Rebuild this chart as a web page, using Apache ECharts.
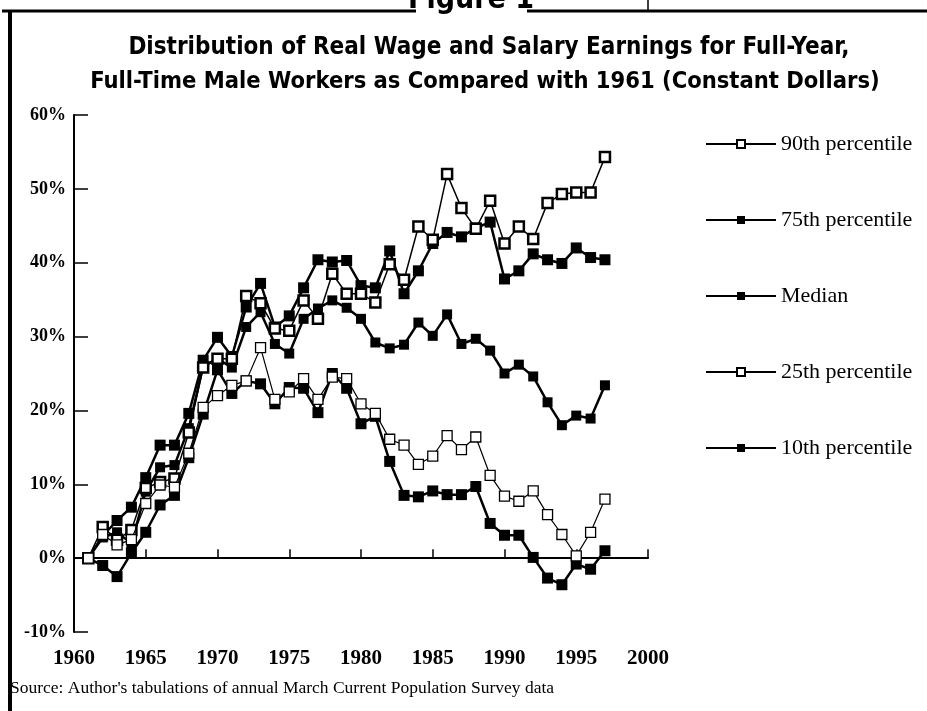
<!DOCTYPE html>
<html><head><meta charset="utf-8">
<script src="https://cdn.jsdelivr.net/npm/echarts@6/dist/echarts.min.js"></script>
<style>html,body{margin:0;padding:0;background:#fff}#c{width:927px;height:711px}</style>
</head><body><div id="c"></div>
<script>
const years = [1961,1962,1963,1964,1965,1966,1967,1968,1969,1970,1971,1972,1973,1974,1975,1976,1977,1978,1979,1980,1981,1982,1983,1984,1985,1986,1987,1988,1989,1990,1991,1992,1993,1994,1995,1996,1997];
const p90 = [0,4.2,2.5,3.8,9.5,10.3,10.8,17.0,25.8,27.0,27.0,35.5,34.5,31.1,30.8,34.9,32.4,38.5,35.8,35.8,34.6,39.8,37.7,44.9,43.1,52.0,47.4,44.6,48.4,42.6,44.9,43.2,48.1,49.3,49.5,49.5,54.3];
const p75 = [0,3.0,5.1,6.9,10.9,15.3,15.3,19.6,26.8,29.9,27.3,34.0,37.2,31.3,32.8,36.6,40.4,40.1,40.3,36.9,36.6,41.6,35.8,38.9,42.6,44.1,43.5,44.7,45.5,37.8,38.9,41.2,40.4,39.9,42.0,40.7,40.4];
const median = [0,2.8,3.5,2.0,9.0,12.3,12.6,17.6,26.0,27.0,25.8,31.3,33.3,29.0,27.7,32.4,33.8,34.9,33.9,32.4,29.2,28.4,28.9,31.9,30.1,33.0,29.0,29.7,28.1,25.0,26.2,24.6,21.1,18.0,19.3,18.9,23.4];
const p25 = [0,3.2,1.8,2.5,7.4,9.9,9.6,14.2,20.4,22.0,23.4,24.0,28.5,21.5,22.5,24.3,21.5,24.5,24.3,20.9,19.6,16.1,15.3,12.7,13.8,16.6,14.7,16.4,11.2,8.4,7.7,9.1,5.9,3.2,0.3,3.5,8.0];
const p10 = [0,-1.0,-2.5,0.7,3.5,7.2,8.5,13.6,19.5,25.5,22.3,24.0,23.6,20.9,23.1,23.0,19.7,25.0,23.0,18.2,19.2,13.1,8.5,8.3,9.1,8.6,8.6,9.7,4.7,3.1,3.1,0.1,-2.7,-3.6,-0.8,-1.5,1.0];
const seriesNames = ['90th percentile','75th percentile','Median','25th percentile','10th percentile'];
const yTicks = {min:-10, max:60, step:10};
const xTicks = {min:1960, max:2000, step:5};
const titleLines = ['Distribution of Real Wage and Salary Earnings for Full-Year,','Full-Time Male Workers as Compared with 1961 (Constant Dollars)'];
const sourceText = "Source: Author's tabulations of annual March Current Population Survey data";
const figureLabel = 'Figure 1';

const pair = arr => years.map((y,i)=>[y,arr[i]]);
const serif = 'Liberation Serif, DejaVu Serif, serif';
const cond = 'DejaVu Sans Condensed, Liberation Sans Narrow, sans-serif';

function mk(name, arr, opts){
  return {
    name, type:'line', data: pair(arr), symbol:'rect', symbolSize: opts.size,
    itemStyle: {color: opts.fill, borderColor:'#000', borderWidth: opts.bw},
    lineStyle: {color:'#000', width: opts.lw},
    emphasis: {disabled:true}, animation:false, z: opts.z
  };
}

const chart = echarts.init(document.getElementById('c'));
chart.setOption({
  backgroundColor:'#fff',
  animation:false,
  grid:{left:74, right:279, top:115, bottom:79},
  xAxis:{type:'value', min:xTicks.min, max:xTicks.max, interval:xTicks.step,
    axisLine:{show:true, lineStyle:{color:'#000', width:2}},
    axisTick:{show:true, inside:true, length:9, lineStyle:{color:'#000', width:1.5}},
    splitLine:{show:false},
    axisLabel:{color:'#000', fontFamily:serif, fontSize:21, fontWeight:'bold', margin:16, showMinLabel:true, showMaxLabel:true, formatter: v => String(v)}},
  yAxis:{type:'value', min:yTicks.min, max:yTicks.max, interval:yTicks.step,
    axisLine:{show:true, lineStyle:{color:'#000', width:2}},
    axisTick:{show:true, inside:true, length:14, lineStyle:{color:'#000', width:1.5}},
    splitLine:{show:false},
    axisLabel:{color:'#000', fontFamily:serif, fontSize:18, fontWeight:'bold', margin:8, formatter:'{value}%'}},
  legend:{orient:'vertical', left:700, top:128, itemWidth:70, itemHeight:10, itemGap:54,
    textStyle:{color:'#000', fontFamily:serif, fontSize:22, lineHeight:20},
    data: seriesNames, selectedMode:false},
  series:[
    mk(seriesNames[0], p90, {size:10, fill:'#fff', bw:2.5, lw:1.5, z:5}),
    mk(seriesNames[1], p75, {size:11, fill:'#000', bw:0, lw:2.5, z:4}),
    mk(seriesNames[2], median, {size:10, fill:'#000', bw:0, lw:2.5, z:3}),
    mk(seriesNames[3], p25, {size:10, fill:'#fff', bw:1.3, lw:1.2, z:6}),
    mk(seriesNames[4], p10, {size:11, fill:'#000', bw:0, lw:2.5, z:2})
  ],
  graphic:[
    {type:'line', shape:{x1:2, y1:11, x2:416, y2:11}, style:{stroke:'#000', lineWidth:3}},
    {type:'line', shape:{x1:527, y1:11, x2:927, y2:11}, style:{stroke:'#000', lineWidth:3}},
    {type:'line', shape:{x1:648, y1:0, x2:648, y2:11}, style:{stroke:'#000', lineWidth:1.5}},
    {type:'line', shape:{x1:10, y1:10, x2:10, y2:711}, style:{stroke:'#000', lineWidth:4}},
    {type:'text', x:471, y:15, style:{text:figureLabel, font:'bold 30px '+cond, fill:'#000', textAlign:'center', textVerticalAlign:'bottom'}},
    {type:'text', x:489, y:48, style:{text:titleLines[0], font:'bold 24px '+cond, fill:'#000', textAlign:'center', textVerticalAlign:'middle'}},
    {type:'text', x:485, y:82, style:{text:titleLines[1], font:'bold 23.5px '+cond, fill:'#000', textAlign:'center', textVerticalAlign:'middle'}},
    {type:'text', x:10, y:688, style:{text:sourceText, font:'17.5px '+serif, fill:'#000', textAlign:'left', textVerticalAlign:'middle'}}
  ]
});
</script></body></html>
